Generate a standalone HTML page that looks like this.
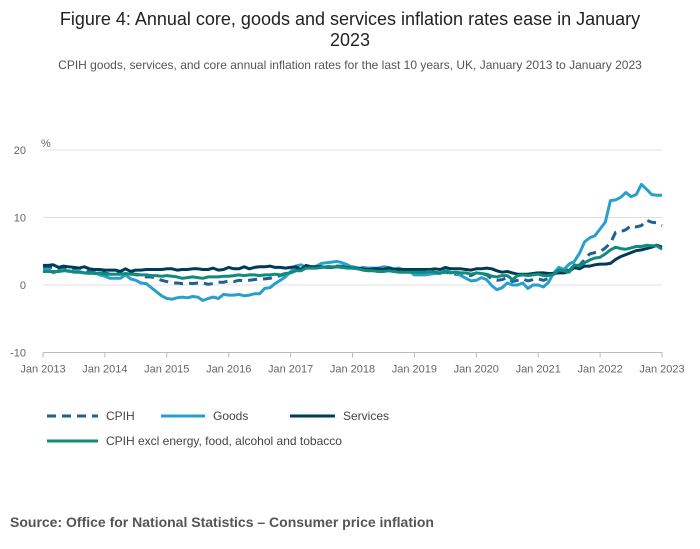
<!DOCTYPE html>
<html><head><meta charset="utf-8">
<style>
body{margin:0;background:#fff;font-family:"Liberation Sans",sans-serif;}
#wrap{position:relative;width:700px;height:549px;overflow:hidden;}
svg text{font-family:"Liberation Sans",sans-serif;}
</style></head>
<body>
<div id="wrap">
<svg id="chart" width="700" height="549">
<text x="350" y="25" text-anchor="middle" font-size="18" fill="#222">Figure 4: Annual core, goods and services inflation rates ease in January</text>
<text x="350" y="46" text-anchor="middle" font-size="18" fill="#222">2023</text>
<text x="350" y="69" text-anchor="middle" font-size="12" fill="#555">CPIH goods, services, and core annual inflation rates for the last 10 years, UK, January 2013 to January 2023</text>
<text x="41" y="147" font-size="11" fill="#666">%</text>
<g id="grid"></g>
<g id="series"></g>
<g>
<line x1="47" y1="416" x2="98" y2="416" stroke="#206095" stroke-width="3" stroke-dasharray="9,6"/>
<text x="106" y="420" font-size="12" fill="#444">CPIH</text>
<line x1="161" y1="416" x2="205" y2="416" stroke="#27a0cc" stroke-width="3"/>
<text x="213" y="420" font-size="12" fill="#444">Goods</text>
<line x1="290" y1="416" x2="335" y2="416" stroke="#003c57" stroke-width="3"/>
<text x="343" y="420" font-size="12" fill="#444">Services</text>
<line x1="47" y1="441" x2="98" y2="441" stroke="#118c7b" stroke-width="3"/>
<text x="106" y="445" font-size="12" fill="#444">CPIH excl energy, food, alcohol and tobacco</text>
</g>
<text x="10" y="527" font-size="14" font-weight="bold" fill="#555">Source: Office for National Statistics – Consumer price inflation</text>
</svg>
</div>
<script>
const yearLabels=["Jan 2013","Jan 2014","Jan 2015","Jan 2016","Jan 2017","Jan 2018","Jan 2019","Jan 2020","Jan 2021","Jan 2022","Jan 2023"];
const yTicks=[20,10,0,-10];
const cpih=[2.6,2.6,2.6,2.3,2.5,2.6,2.5,2.5,2.4,2.0,2.0,1.9,
1.8,1.6,1.6,1.7,1.5,1.8,1.5,1.5,1.2,1.2,1.0,0.7,
0.5,0.3,0.3,0.2,0.3,0.2,0.3,0.3,0.1,0.2,0.4,0.4,
0.6,0.5,0.7,0.6,0.7,0.8,0.9,0.9,1.0,1.2,1.4,1.6,
2.0,2.2,2.3,2.6,2.7,2.6,2.6,2.7,2.8,2.8,2.8,2.7,
2.7,2.5,2.3,2.2,2.3,2.3,2.4,2.5,2.2,2.2,2.2,2.0,
1.8,1.8,1.8,2.0,1.9,1.8,1.9,1.7,1.6,1.5,1.5,1.4,
1.8,1.7,1.5,0.9,0.7,0.8,1.1,0.5,0.7,0.9,0.6,0.8,
0.9,0.7,1.0,1.6,2.1,2.4,2.1,3.0,2.9,3.8,4.6,4.8,
4.9,5.5,6.2,7.8,7.9,8.2,8.8,8.6,8.8,9.6,9.3,9.2,
8.8];
const goods=[2.2,2.3,1.8,2.1,2.2,2.0,2.1,2.0,1.8,1.7,1.8,1.5,
1.3,1.0,1.0,1.0,1.5,0.9,0.7,0.3,0.2,-0.4,-1.0,-1.6,
-2.0,-2.1,-1.9,-1.8,-1.9,-1.7,-1.8,-2.3,-2.0,-1.8,-2.0,-1.4,
-1.5,-1.5,-1.4,-1.6,-1.5,-1.3,-1.3,-0.5,-0.4,0.2,0.7,1.2,
2.0,2.8,3.0,2.6,2.6,2.8,3.2,3.3,3.4,3.5,3.3,3.0,
2.6,2.4,2.6,2.5,2.5,2.5,2.7,2.6,2.4,2.5,2.2,2.1,
1.5,1.5,1.5,1.6,1.7,1.7,2.2,1.9,1.8,1.4,1.0,0.6,
0.7,1.1,0.8,-0.1,-0.7,-0.4,0.3,0.0,0.0,0.3,-0.5,0.0,
0.0,-0.3,0.4,1.8,2.6,2.3,3.1,3.5,4.7,6.4,7.0,7.3,
8.3,9.3,12.5,12.6,13.0,13.7,13.1,13.4,14.9,14.2,13.4,13.3,
13.3];
const services=[2.9,2.9,3.0,2.6,2.8,2.7,2.6,2.5,2.7,2.4,2.3,2.3,
2.2,2.2,2.2,2.0,2.4,2.0,2.2,2.2,2.3,2.3,2.3,2.3,
2.4,2.4,2.2,2.3,2.3,2.4,2.4,2.3,2.3,2.5,2.2,2.3,
2.6,2.4,2.4,2.7,2.4,2.6,2.7,2.7,2.8,2.6,2.6,2.5,
2.6,2.7,2.3,2.9,2.7,2.7,2.7,2.6,2.6,2.7,2.6,2.6,
2.5,2.5,2.4,2.3,2.4,2.4,2.3,2.5,2.3,2.3,2.3,2.3,
2.3,2.3,2.3,2.3,2.4,2.3,2.6,2.4,2.4,2.4,2.3,2.2,
2.4,2.4,2.5,2.4,2.1,1.9,2.0,1.8,1.6,1.6,1.6,1.7,
1.8,1.8,1.7,1.7,1.8,1.8,2.0,2.6,2.4,2.8,2.8,3.0,
3.1,3.1,3.2,3.8,4.2,4.5,4.8,5.1,5.2,5.4,5.6,5.9,
5.6];
const core=[2.0,2.0,2.0,2.0,2.1,2.1,1.9,1.9,1.8,1.8,1.7,1.8,
1.6,1.6,1.6,1.6,1.7,1.6,1.6,1.5,1.5,1.4,1.4,1.3,
1.4,1.3,1.2,1.0,1.1,1.2,1.1,1.0,1.2,1.2,1.2,1.3,
1.3,1.4,1.5,1.4,1.5,1.5,1.4,1.5,1.5,1.6,1.5,1.7,
1.8,2.1,2.1,2.5,2.5,2.5,2.6,2.7,2.7,2.7,2.6,2.5,
2.5,2.4,2.2,2.1,2.1,2.0,2.0,2.1,2.0,1.9,1.9,1.9,
1.9,1.9,1.9,2.0,1.9,1.8,2.0,1.8,1.9,1.8,1.8,1.6,
1.8,1.7,1.6,1.3,1.2,1.4,1.4,0.8,1.4,1.5,1.4,1.5,
1.6,1.4,1.4,1.6,2.2,2.1,1.9,3.0,2.8,3.3,3.7,4.0,
4.1,4.6,5.2,5.6,5.4,5.3,5.5,5.7,5.7,5.9,5.8,5.8,
5.3];
const svg=document.getElementById('chart');
const NS='http://www.w3.org/2000/svg';
const X0=43,X1=662,Y20=150,Y0=285;
function xs(i){return X0+(X1-X0)*i/120;}
function ys(v){return Y0-(Y0-Y20)*v/20;}
const grid=document.getElementById('grid');
yTicks.forEach(t=>{
 const l=document.createElementNS(NS,'line');
 l.setAttribute('x1',X0);l.setAttribute('x2',X1);l.setAttribute('y1',ys(t));l.setAttribute('y2',ys(t));
 l.setAttribute('stroke','#e0e0e0');l.setAttribute('stroke-width','1');
 
 
 grid.appendChild(l);
 const tx=document.createElementNS(NS,'text');
 tx.setAttribute('x',26);tx.setAttribute('y',ys(t)+4);tx.setAttribute('text-anchor','end');
 tx.setAttribute('font-size','11');tx.setAttribute('fill','#666');tx.textContent=t;
 
 
 grid.appendChild(tx);
});
const ax=document.createElementNS(NS,'line');
ax.setAttribute('x1',X0);ax.setAttribute('x2',X1);ax.setAttribute('y1',ys(-10));ax.setAttribute('y2',ys(-10));
ax.setAttribute('stroke','#bbb');


grid.appendChild(ax);
yearLabels.forEach((lab,k)=>{
 const x=xs(k*12);
 const tk=document.createElementNS(NS,'line');
 tk.setAttribute('x1',x);tk.setAttribute('x2',x);tk.setAttribute('y1',ys(-10));tk.setAttribute('y2',ys(-10)+5);
 tk.setAttribute('stroke','#bbb');
 
 
 grid.appendChild(tk);
 const tx=document.createElementNS(NS,'text');
 tx.setAttribute('x',x);tx.setAttribute('y',ys(-10)+20);tx.setAttribute('text-anchor','middle');
 tx.setAttribute('font-size','11');tx.setAttribute('fill','#666');tx.textContent=lab;
 
 
 grid.appendChild(tx);
});
const sg=document.getElementById('series');
function draw(arr,color,dash,name){
 const p=document.createElementNS(NS,'polyline');
 p.setAttribute('points',arr.map((v,i)=>xs(i).toFixed(1)+','+ys(v).toFixed(1)).join(' '));
 p.setAttribute('fill','none');p.setAttribute('stroke',color);p.setAttribute('stroke-width','3');
 p.setAttribute('stroke-linejoin','round');
 if(dash)p.setAttribute('stroke-dasharray',dash);
 
 
 sg.appendChild(p);
}
draw(cpih,'#206095','9,6','line-cpih');
draw(goods,'#27a0cc',null,'line-goods');
draw(services,'#003c57',null,'line-services');
draw(core,'#118c7b',null,'line-core');
</script>
</body></html>
